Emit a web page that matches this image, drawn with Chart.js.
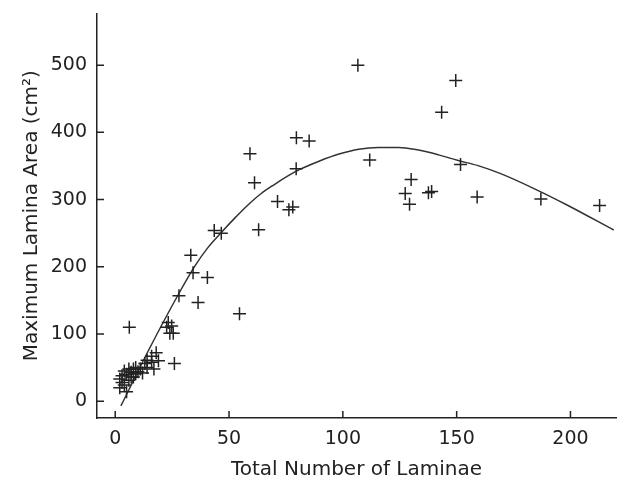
<!DOCTYPE html>
<html>
<head>
<meta charset="utf-8">
<script src="https://cdn.jsdelivr.net/npm/chart.js@4"></script>
<style>
  html, body { margin: 0; padding: 0; background: #fff; }
  #wrap { width: 624px; height: 486px; }
</style>
</head>
<body>
<div id="wrap"><canvas id="laminaChart"></canvas></div>
<script>
// Waarnemingen: totaal aantal bladeren tegen maximaal bladoppervlak
var aantalBladeren = [
    2, 2, 3, 3, 4, 4, 5, 5, 6, 6, 7, 7, 8, 8, 9, 9, 10, 11, 12, 13, 14, 14, 16, 16, 17, 18, 19,
    6.2, 22.6, 23.3, 24.8, 24, 25.5, 26, 28, 36.4, 33.2, 34.2, 40.5, 43.5, 46.6, 54.6,
    59.2, 61.2, 63, 71.3, 76.3, 78, 79.5, 79.6, 85.2,
    106.6, 111.8, 127.4, 129.3, 130, 137.6, 139, 143.4, 149.6, 151.7, 159, 187, 212.8
];
var bladOppervlak = [
    33, 20, 38, 28, 24, 45, 14, 40, 31, 48, 43, 36, 36, 48, 41, 50, 44, 48, 42, 56, 61, 50, 58, 67, 48, 72, 60,
    110, 110, 117, 112, 101, 101, 56, 157, 147, 217, 191, 184, 254, 250, 130,
    368, 325, 255, 297, 285, 289, 346, 392, 387,
    500, 359, 309, 293, 330, 310, 312, 430, 477, 352, 304, 301, 291
];

// Gefitte curve
var curveX = [2.5, 15, 27.6, 34.9, 40.7, 46.6, 52.4, 58.2, 64, 69.9, 75.7, 81.5, 89.5, 98.3, 107,
              115.7, 124.5, 133.2, 142, 150.7, 159.4, 169.6, 184.2, 198.7, 219];
var curveY = [-7, 78, 158, 200.6, 228.5, 251, 272, 291.6, 308.7, 322.4, 334.8, 345.6, 357, 367.7, 375,
              377.6, 377.6, 373.6, 366.5, 358, 350.5, 338.2, 316, 291.6, 254.7];

// Asverdeling
var xTicks = [0, 50, 100, 150, 200];
var yTicks = [0, 100, 200, 300, 400, 500];

var inkt = '#222';

// Korte streepjes naar binnen op beide assen
var binnenTicks = {
    id: 'binnenTicks',
    afterDraw: function (chart) {
        var ctx = chart.ctx;
        var vlak = chart.chartArea;
        var xs = chart.scales.x, ys = chart.scales.y;
        ctx.save();
        ctx.strokeStyle = inkt;
        ctx.lineWidth = 1.5;
        ctx.beginPath();
        xTicks.forEach(function (v) {
            var px = xs.getPixelForValue(v);
            ctx.moveTo(px, vlak.bottom);
            ctx.lineTo(px, vlak.bottom - 7);
        });
        yTicks.forEach(function (v) {
            var py = ys.getPixelForValue(v);
            ctx.moveTo(vlak.left, py);
            ctx.lineTo(vlak.left + 7, py);
        });
        ctx.stroke();
        ctx.restore();
    }
};

function vasteTicks(waarden) {
    return function (scale) {
        scale.ticks = waarden.map(function (v) { return { value: v }; });
    };
}

function tekenGrafiek() {
    var punten = aantalBladeren.map(function (x, i) { return { x: x, y: bladOppervlak[i] }; });
    var curve = curveX.map(function (x, i) { return { x: x, y: curveY[i] }; });
    var tickFont = { family: 'DejaVu Sans', size: 19 };
    var titelFont = { family: 'DejaVu Sans', size: 20 };

    var ctx = document.getElementById('laminaChart').getContext('2d');
    new Chart(ctx, {
        type: 'scatter',
        data: {
            datasets: [
                {
                    label: 'Waarnemingen',
                    data: punten,
                    pointStyle: 'cross',
                    pointRadius: 6.5,
                    pointBorderWidth: 1.5,
                    borderColor: inkt,
                    backgroundColor: inkt
                },
                {
                    type: 'line',
                    label: 'Curve',
                    data: curve,
                    borderColor: '#333',
                    borderWidth: 1.5,
                    pointRadius: 0,
                    cubicInterpolationMode: 'monotone',
                    fill: false
                }
            ]
        },
        options: {
            responsive: true,
            maintainAspectRatio: false,
            animation: false,
            layout: { padding: { top: 10, right: 5, left: 20, bottom: 0 } },
            plugins: { legend: { display: false }, tooltip: { enabled: false } },
            scales: {
                x: {
                    type: 'linear',
                    min: -8,
                    max: 220,
                    grid: { display: false },
                    border: { display: true, color: inkt, width: 1.5 },
                    afterBuildTicks: vasteTicks(xTicks),
                    ticks: { color: inkt, font: tickFont, padding: 2 },
                    title: { display: true, text: 'Total Number of Laminae', color: inkt, font: titelFont, padding: { top: 6, bottom: 4 } },
                    afterFit: function (scale) { scale.height = 68; }
                },
                y: {
                    type: 'linear',
                    min: -25,
                    max: 577,
                    grid: { display: false },
                    border: { display: true, color: inkt, width: 1.5 },
                    afterBuildTicks: vasteTicks(yTicks),
                    ticks: { color: inkt, font: tickFont, padding: 2 },
                    title: { display: true, text: 'Maximum Lamina Area (cm²)', color: inkt, font: titelFont, padding: { top: 0, bottom: 4 } },
                    afterFit: function (scale) { scale.width = 77; }
                }
            }
        },
        plugins: [binnenTicks]
    });
}

tekenGrafiek();
</script>
</body>
</html>
